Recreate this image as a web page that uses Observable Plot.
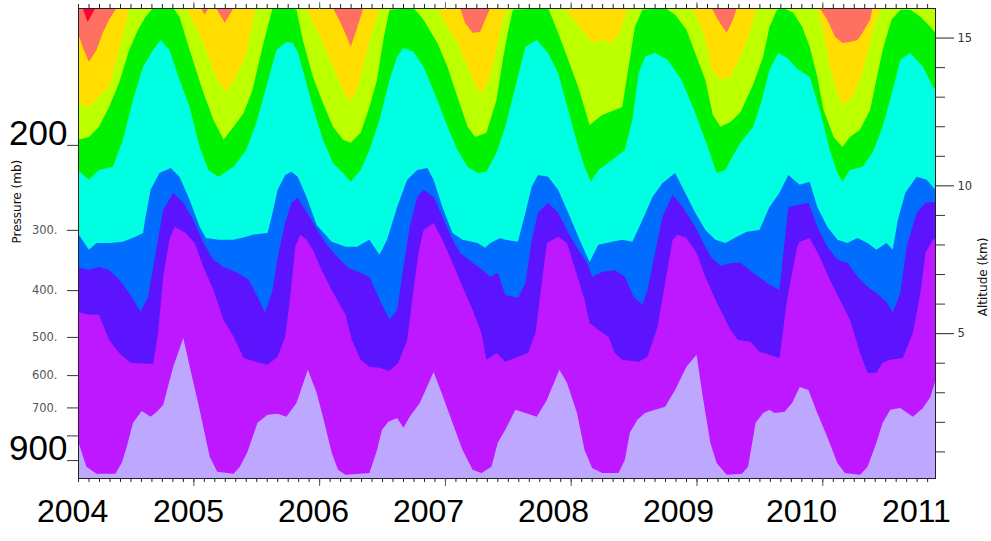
<!DOCTYPE html>
<html>
<head>
<meta charset="utf-8">
<script src="https://cdn.jsdelivr.net/npm/d3@7"></script>
<script src="https://cdn.jsdelivr.net/npm/@observablehq/plot@0.6"></script>
<style>
  html, body { margin: 0; padding: 0; background: #fff; overflow: hidden; }
</style>
</head>
<body>
<div id="chart"></div>
<script>
// ---- Boundary altitudes (km) of each colour band, [decimal year, km] ----
const lavenderTop = [[2004.08,1.39],[2004.15,0.48],[2004.23,0.24],[2004.38,0.24],[2004.43,0.61],[2004.47,1.15],[2004.52,1.97],[2004.59,2.37],[2004.66,2.17],[2004.71,2.34],[2004.76,2.57],[2004.84,3.86],[2004.92,4.84],[2004.99,3.52],[2005.05,2.41],[2005.13,0.82],[2005.19,0.31],[2005.32,0.24],[2005.37,0.48],[2005.43,0.98],[2005.51,1.97],[2005.59,2.24],[2005.67,2.27],[2005.74,2.17],[2005.82,2.64],[2005.91,3.76],[2005.98,2.98],[2006.03,2.17],[2006.10,0.95],[2006.15,0.38],[2006.21,0.21],[2006.40,0.27],[2006.46,1.05],[2006.50,1.73],[2006.55,2.00],[2006.62,2.13],[2006.67,1.80],[2006.72,2.17],[2006.80,2.64],[2006.91,3.69],[2006.98,2.91],[2007.06,1.97],[2007.14,1.05],[2007.22,0.38],[2007.29,0.27],[2007.37,0.48],[2007.42,1.29],[2007.48,1.73],[2007.56,2.41],[2007.64,2.30],[2007.73,2.17],[2007.81,2.74],[2007.91,3.76],[2007.97,3.32],[2008.05,2.30],[2008.11,1.05],[2008.17,0.44],[2008.25,0.27],[2008.38,0.27],[2008.43,0.71],[2008.47,1.63],[2008.53,2.07],[2008.59,2.30],[2008.67,2.41],[2008.75,2.51],[2008.83,3.08],[2008.92,3.86],[2009.00,4.27],[2009.05,2.85],[2009.11,1.29],[2009.16,0.61],[2009.24,0.21],[2009.36,0.24],[2009.41,0.48],[2009.47,1.97],[2009.53,2.30],[2009.58,2.41],[2009.62,2.30],[2009.70,2.34],[2009.76,2.64],[2009.82,3.18],[2009.89,3.08],[2009.96,2.30],[2010.04,1.49],[2010.12,0.61],[2010.18,0.27],[2010.30,0.21],[2010.36,0.48],[2010.43,1.29],[2010.48,1.97],[2010.54,2.41],[2010.62,2.47],[2010.72,2.17],[2010.80,2.47],[2010.86,2.85],[2010.90,3.42]];

const magentaTop = [[2004.08,5.72],[2004.17,5.62],[2004.25,5.62],[2004.33,4.77],[2004.41,4.33],[2004.50,4.00],[2004.68,3.96],[2004.72,5.01],[2004.76,6.91],[2004.81,8.16],[2004.85,8.60],[2004.94,8.39],[2005.01,8.05],[2005.08,7.24],[2005.16,6.46],[2005.24,5.45],[2005.32,4.88],[2005.40,4.16],[2005.52,4.00],[2005.59,3.93],[2005.67,4.20],[2005.73,4.88],[2005.77,6.23],[2005.81,7.92],[2005.85,8.33],[2005.90,8.16],[2005.95,7.82],[2006.02,7.14],[2006.10,6.46],[2006.21,5.62],[2006.26,4.77],[2006.33,4.10],[2006.40,3.86],[2006.48,3.83],[2006.56,3.72],[2006.63,4.00],[2006.70,4.77],[2006.75,6.46],[2006.79,7.72],[2006.83,8.49],[2006.91,8.73],[2006.98,8.16],[2007.06,7.38],[2007.14,6.57],[2007.22,5.79],[2007.29,5.01],[2007.33,4.10],[2007.41,4.33],[2007.48,4.03],[2007.58,4.20],[2007.66,4.33],[2007.72,5.01],[2007.77,6.70],[2007.81,8.05],[2007.90,8.26],[2007.97,8.05],[2008.03,7.24],[2008.11,6.13],[2008.15,5.35],[2008.22,5.11],[2008.30,4.88],[2008.35,4.33],[2008.41,4.10],[2008.54,4.03],[2008.61,4.20],[2008.69,5.21],[2008.75,6.70],[2008.81,8.16],[2008.85,8.33],[2008.92,8.22],[2009.00,7.72],[2009.07,6.91],[2009.15,6.13],[2009.23,5.45],[2009.27,5.11],[2009.33,4.77],[2009.43,4.71],[2009.50,4.37],[2009.58,4.27],[2009.66,4.16],[2009.72,6.13],[2009.76,7.04],[2009.80,7.92],[2009.82,8.09],[2009.90,8.22],[2009.98,7.58],[2010.06,6.81],[2010.14,6.13],[2010.22,5.45],[2010.30,4.33],[2010.36,3.66],[2010.43,3.66],[2010.48,4.00],[2010.54,4.10],[2010.64,4.16],[2010.72,5.01],[2010.78,6.36],[2010.82,7.72],[2010.88,8.16],[2010.90,8.22]];

const violetTop = [[2004.08,7.24],[2004.17,7.14],[2004.25,7.24],[2004.33,7.14],[2004.41,6.81],[2004.49,6.36],[2004.58,5.72],[2004.64,6.23],[2004.70,7.72],[2004.76,9.17],[2004.84,9.75],[2004.92,9.41],[2005.00,8.83],[2005.08,8.05],[2005.16,7.48],[2005.24,7.24],[2005.34,7.07],[2005.44,6.81],[2005.51,6.23],[2005.57,5.69],[2005.63,6.46],[2005.67,7.58],[2005.73,8.73],[2005.78,9.41],[2005.83,9.58],[2005.89,9.17],[2005.97,8.60],[2006.05,8.05],[2006.13,7.65],[2006.23,7.21],[2006.33,7.04],[2006.40,6.91],[2006.48,6.13],[2006.56,5.45],[2006.62,5.79],[2006.67,7.24],[2006.72,8.60],[2006.78,9.61],[2006.83,9.85],[2006.91,9.61],[2006.98,8.94],[2007.06,8.16],[2007.12,7.72],[2007.22,7.38],[2007.30,7.14],[2007.36,6.91],[2007.42,7.04],[2007.48,6.30],[2007.58,6.19],[2007.64,6.70],[2007.69,8.16],[2007.74,9.07],[2007.82,9.41],[2007.90,9.07],[2007.98,8.39],[2008.06,7.82],[2008.13,7.38],[2008.17,6.91],[2008.25,7.07],[2008.35,7.14],[2008.43,6.91],[2008.50,6.23],[2008.57,5.96],[2008.61,6.46],[2008.67,7.72],[2008.73,8.94],[2008.81,9.68],[2008.89,9.27],[2008.99,8.60],[2009.07,7.92],[2009.12,7.55],[2009.19,7.28],[2009.29,7.38],[2009.35,7.38],[2009.45,7.04],[2009.56,6.70],[2009.66,6.46],[2009.69,7.72],[2009.73,9.27],[2009.82,9.34],[2009.89,9.41],[2009.96,8.60],[2010.04,7.92],[2010.12,7.48],[2010.20,7.38],[2010.28,6.91],[2010.36,6.57],[2010.43,6.36],[2010.51,6.06],[2010.56,5.69],[2010.62,6.36],[2010.67,7.92],[2010.75,9.07],[2010.82,9.41],[2010.90,9.44]];

const blueTop = [[2004.08,8.39],[2004.17,7.82],[2004.23,8.05],[2004.33,8.05],[2004.44,8.09],[2004.54,8.26],[2004.60,8.39],[2004.62,8.94],[2004.66,9.85],[2004.73,10.42],[2004.82,10.59],[2004.89,10.29],[2004.97,9.51],[2005.05,8.60],[2005.10,8.22],[2005.20,8.16],[2005.32,8.16],[2005.42,8.26],[2005.47,8.33],[2005.59,8.39],[2005.63,9.07],[2005.67,9.85],[2005.73,10.35],[2005.78,10.46],[2005.83,10.29],[2005.90,9.61],[2005.98,8.66],[2006.10,8.09],[2006.21,7.92],[2006.30,7.92],[2006.40,8.16],[2006.48,7.65],[2006.54,8.16],[2006.62,9.27],[2006.70,10.19],[2006.78,10.52],[2006.86,10.59],[2006.91,10.19],[2006.98,9.27],[2007.06,8.39],[2007.14,8.16],[2007.26,8.05],[2007.32,7.89],[2007.36,8.05],[2007.44,8.22],[2007.48,8.16],[2007.58,8.09],[2007.64,9.07],[2007.69,9.95],[2007.74,10.35],[2007.82,10.29],[2007.90,9.85],[2007.98,9.07],[2008.06,8.26],[2008.15,7.41],[2008.22,7.99],[2008.33,8.09],[2008.41,8.16],[2008.49,8.09],[2008.57,8.83],[2008.65,9.61],[2008.73,10.08],[2008.83,10.42],[2008.91,9.75],[2008.99,9.07],[2009.07,8.49],[2009.15,8.16],[2009.23,8.05],[2009.32,8.26],[2009.40,8.43],[2009.50,8.49],[2009.58,9.27],[2009.66,9.75],[2009.73,10.35],[2009.82,10.02],[2009.90,10.12],[2009.96,9.27],[2010.04,8.60],[2010.12,8.16],[2010.20,8.05],[2010.28,8.22],[2010.36,8.05],[2010.43,7.82],[2010.51,8.05],[2010.56,7.82],[2010.60,8.83],[2010.66,9.75],[2010.75,10.29],[2010.83,10.19],[2010.90,9.85]];

const cyanTop = [[2004.08,10.52],[2004.17,10.19],[2004.25,10.52],[2004.36,10.63],[2004.44,11.54],[2004.52,12.89],[2004.60,14.01],[2004.68,14.58],[2004.74,14.92],[2004.81,14.58],[2004.89,13.57],[2004.97,12.65],[2005.05,11.30],[2005.12,10.52],[2005.20,10.29],[2005.32,10.63],[2005.42,11.20],[2005.50,12.11],[2005.58,13.33],[2005.66,14.58],[2005.74,14.85],[2005.79,14.82],[2005.83,14.52],[2005.87,13.91],[2005.95,12.65],[2006.03,11.54],[2006.11,10.76],[2006.19,10.42],[2006.25,10.12],[2006.33,10.52],[2006.40,11.20],[2006.48,12.21],[2006.56,13.57],[2006.62,14.35],[2006.67,14.65],[2006.75,14.52],[2006.83,14.01],[2006.94,12.89],[2007.02,11.98],[2007.10,11.20],[2007.18,10.63],[2007.26,10.42],[2007.33,10.46],[2007.41,11.10],[2007.48,11.98],[2007.56,13.33],[2007.64,14.69],[2007.73,14.92],[2007.82,14.48],[2007.90,13.80],[2007.98,12.55],[2008.06,11.30],[2008.11,10.63],[2008.16,10.12],[2008.22,10.52],[2008.33,10.86],[2008.43,11.20],[2008.49,12.21],[2008.54,13.80],[2008.59,14.35],[2008.67,14.48],[2008.77,14.25],[2008.88,13.57],[2008.99,12.45],[2009.09,11.30],[2009.16,10.42],[2009.23,10.52],[2009.27,10.86],[2009.35,11.44],[2009.45,11.98],[2009.52,12.89],[2009.58,13.91],[2009.65,14.48],[2009.72,14.32],[2009.81,13.91],[2009.90,13.67],[2009.98,12.55],[2010.06,11.20],[2010.12,10.42],[2010.16,10.12],[2010.22,10.52],[2010.32,10.63],[2010.40,11.10],[2010.48,11.98],[2010.56,13.23],[2010.62,14.25],[2010.70,14.48],[2010.80,14.01],[2010.88,13.33],[2010.90,13.23]];

const greenTop = [[2004.08,11.54],[2004.17,11.64],[2004.25,11.98],[2004.33,12.65],[2004.41,13.47],[2004.49,14.58],[2004.56,15.26],[2004.62,15.70],[2004.68,16],[2004.84,16],[2004.89,15.70],[2004.97,14.58],[2005.08,13.13],[2005.16,12.21],[2005.24,11.54],[2005.32,11.98],[2005.40,12.45],[2005.47,13.23],[2005.55,14.69],[2005.63,16],[2005.77,16],[2005.82,15.94],[2005.87,14.92],[2005.95,13.67],[2006.03,12.79],[2006.11,11.98],[2006.19,11.54],[2006.25,11.44],[2006.33,11.78],[2006.40,12.65],[2006.46,13.57],[2006.51,14.92],[2006.56,15.94],[2006.75,16],[2006.83,15.60],[2006.94,14.82],[2007.02,14.01],[2007.10,12.99],[2007.18,11.98],[2007.24,11.64],[2007.33,11.78],[2007.41,12.89],[2007.46,14.25],[2007.50,15.16],[2007.54,15.94],[2007.82,16],[2007.90,15.16],[2007.98,14.25],[2008.06,13.33],[2008.15,12.04],[2008.25,12.38],[2008.35,12.55],[2008.41,12.65],[2008.46,14.01],[2008.51,15.36],[2008.57,15.94],[2008.75,16],[2008.83,15.77],[2008.92,15.26],[2009.00,14.35],[2009.07,13.57],[2009.13,12.38],[2009.19,11.98],[2009.27,12.14],[2009.35,12.48],[2009.45,13.40],[2009.53,14.35],[2009.58,15.36],[2009.64,15.94],[2009.69,16],[2009.77,15.84],[2009.84,15.36],[2009.90,14.69],[2009.96,13.67],[2010.01,12.55],[2010.09,11.64],[2010.16,11.30],[2010.22,11.64],[2010.30,11.88],[2010.38,12.55],[2010.43,13.57],[2010.48,14.58],[2010.55,15.60],[2010.62,15.94],[2010.70,15.94],[2010.78,15.70],[2010.86,15.36],[2010.90,15.16]];

const yellowGreenTop = [[2004.08,12.79],[2004.17,12.65],[2004.25,12.99],[2004.33,13.33],[2004.41,14.58],[2004.47,15.60],[2004.49,16],[2004.94,16],[2005.02,15.36],[2005.10,14.58],[2005.18,13.67],[2005.26,13.13],[2005.34,13.67],[2005.42,14.48],[2005.47,15.50],[2005.50,16],[2005.89,16],[2005.95,15.50],[2006.03,14.82],[2006.11,14.01],[2006.19,13.23],[2006.25,12.82],[2006.30,13.23],[2006.35,14.01],[2006.40,14.92],[2006.46,15.70],[2006.48,16],[2006.94,16],[2007.02,15.36],[2007.10,14.82],[2007.18,14.01],[2007.26,13.23],[2007.30,13.13],[2007.36,13.67],[2007.41,14.58],[2007.46,15.60],[2007.49,16],[2007.95,16],[2008.01,15.70],[2008.09,15.26],[2008.17,14.82],[2008.25,14.92],[2008.33,14.82],[2008.39,15.16],[2008.43,15.70],[2008.46,16],[2008.96,16],[2009.04,15.36],[2009.09,14.58],[2009.12,13.91],[2009.19,13.57],[2009.27,13.67],[2009.35,14.35],[2009.43,15.26],[2009.48,16],[2009.96,16],[2010.01,15.16],[2010.06,14.01],[2010.12,13.13],[2010.16,12.72],[2010.24,12.99],[2010.30,13.57],[2010.36,14.48],[2010.40,15.26],[2010.46,15.94],[2010.48,16],[2010.90,16]];

const yellowTop = [[2004.08,15.16],[2004.13,14.58],[2004.17,14.18],[2004.23,14.58],[2004.28,15.16],[2004.33,15.60],[2004.39,16],[2005.06,16],[2005.09,15.77],[2005.12,16],[2005.18,16],[2005.25,15.50],[2005.32,16],[2006.11,16],[2006.17,15.50],[2006.22,15.03],[2006.25,14.69],[2006.29,15.16],[2006.33,15.70],[2006.35,16],[2007.12,16],[2007.16,15.50],[2007.22,15.16],[2007.28,15.19],[2007.32,15.60],[2007.36,16],[2009.12,16],[2009.17,15.60],[2009.24,15.16],[2009.29,15.60],[2009.32,16],[2009.98,16],[2010.04,15.60],[2010.10,15.03],[2010.16,14.82],[2010.22,14.85],[2010.28,14.92],[2010.32,15.16],[2010.38,15.60],[2010.40,16],[2010.90,16]];

const salmonTop = [[2004.08,16],[2004.12,16],[2004.16,15.53],[2004.22,16],[2010.90,16]];

// ---- Axis values and labels ----
const pressureTicks = [200, 300, 400, 500, 600, 700, 800, 900];
const pressureTickLabels = ["", "300.", "400.", "500.", "600.", "700.", "", ""];
const bigPressure = [200, 900];
const bigPressureLabels = ["200", "900"];
const altitudeMajor = [5, 10, 15];
const altitudeMinor = [1, 2, 3, 4, 6, 7, 8, 9, 11, 12, 13, 14];
const yearTicks = [2005, 2006, 2007, 2008, 2009, 2010];
const yearLabels = ["2004", "2005", "2006", "2007", "2008", "2009", "2010", "2011"];
const yearLabelPos = [2004.036, 2004.958, 2005.951, 2006.866, 2007.859, 2008.853, 2009.831, 2010.745];

const bandColors = {
  red: "#ff0032", salmon: "#ff6f62", yellow: "#ffdd00", yellowGreen: "#bbff00",
  green: "#00f200", cyan: "#00ffe2", blue: "#006dff", violet: "#5c14ff",
  magenta: "#bd18ff", lavender: "#bea8ff"
};

// pressure (mb) -> altitude (km) on this chart's log-pressure axis
const alt = p => 8.495 - 7.09 * Math.log(p / 300);
const pFmt = new Map(pressureTicks.map((p, i) => [alt(p), pressureTickLabels[i]]));
const months = d3.range(1, 83).map(m => 2004 + m / 12);

const layers = [
  [salmonTop, bandColors.salmon],
  [yellowTop, bandColors.yellow],
  [yellowGreenTop, bandColors.yellowGreen],
  [greenTop, bandColors.green],
  [cyanTop, bandColors.cyan],
  [blueTop, bandColors.blue],
  [violetTop, bandColors.violet],
  [magentaTop, bandColors.magenta],
  [lavenderTop, bandColors.lavender]
];

const bigFont = "Liberation Sans, Arial, Helvetica, sans-serif";

const chart = Plot.plot({
  width: 991,
  height: 541,
  marginLeft: 78,
  marginRight: 56,
  marginTop: 8,
  marginBottom: 63,
  style: { fontFamily: "DejaVu Sans, sans-serif", background: "#fff", overflow: "visible" },
  x: { domain: [2004.083, 2010.896], axis: null },
  y: { domain: [0.1, 16.0], axis: null },
  marks: [
    Plot.frame({ fill: bandColors.red, stroke: null }),
    ...layers.map(([data, fill]) =>
      Plot.areaY(data, { x: d => d[0], y1: 0, y2: d => d[1], fill, clip: true })
    ),
    Plot.frame({ stroke: "#222", strokeWidth: 1 }),

    // left pressure axis
    Plot.axisY({ anchor: "left", ticks: pressureTicks.map(alt), tickSize: 11, tickPadding: 10,
      tickFormat: d => pFmt.get(d) ?? "", fontSize: 11.5, fill: "#555", stroke: "#333", label: null }),
    // right altitude axis
    Plot.axisY({ anchor: "right", ticks: altitudeMinor, tickSize: 9, tickFormat: () => "",
      stroke: "#333", label: null }),
    Plot.axisY({ anchor: "right", ticks: altitudeMajor, tickSize: 18, tickPadding: 4,
      tickFormat: d => String(d), fontSize: 11.5, fill: "#333", stroke: "#222", label: null }),
    // top and bottom month ticks
    Plot.axisX({ anchor: "top", ticks: months, tickSize: 5, tickFormat: () => "", stroke: "#222", label: null }),
    Plot.axisX({ anchor: "top", ticks: yearTicks, tickSize: 7, tickFormat: () => "", stroke: "#777", label: null }),
    Plot.axisX({ anchor: "bottom", ticks: months, tickSize: 4, tickFormat: () => "", stroke: "#222", label: null }),
    Plot.axisX({ anchor: "bottom", ticks: yearTicks, tickSize: 8, tickFormat: () => "", stroke: "#555", label: null }),

    // axis titles
    Plot.text(["Pressure (mb)"], { text: d => d, frameAnchor: "left", dx: -61, rotate: -90,
      fontSize: 12, fill: "#111" }),
    Plot.text(["Altitude (km)"], { text: d => d, frameAnchor: "right", dx: 48, dy: -6, rotate: -90,
      fontSize: 12, fill: "#111" }),

    // large overlay labels
    Plot.text(bigPressure, { y: p => alt(p), text: (d, i) => bigPressureLabels[i], frameAnchor: "left",
      textAnchor: "end", dx: -11, dy: -12, fontSize: 35, fontFamily: bigFont, fill: "#000" }),
    Plot.text(yearLabels, { x: (d, i) => yearLabelPos[i], text: d => d, frameAnchor: "bottom",
      dy: 43.5, fontSize: 32, fontFamily: bigFont, fill: "#000" })
  ]
});

document.getElementById("chart").appendChild(chart);
</script>
</body>
</html>
